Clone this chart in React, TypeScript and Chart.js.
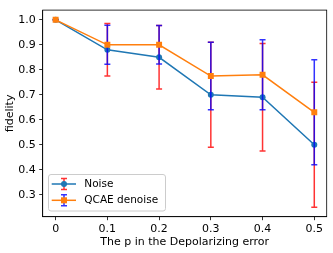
import { useEffect, useRef } from 'react';
import { Chart, registerables } from 'chart.js';

Chart.register(...registerables);

const pValues = [0, 0.1, 0.2, 0.3, 0.4, 0.5];
const noiseMean = [1.0, 0.88, 0.85, 0.70, 0.69, 0.50];
const noiseErr = [0, 0.105, 0.127, 0.21, 0.215, 0.25];
const qcaeMean = [1.0, 0.90, 0.90, 0.775, 0.78, 0.63];
const qcaeErr = [0, 0.078, 0.077, 0.135, 0.14, 0.21];
const seriesNames = ['Noise', 'QCAE denoise'];
const xTickValues = [0, 0.1, 0.2, 0.3, 0.4, 0.5];
const xTickLabels = ['0', '0.1', '0.2', '0.3', '0.4', '0.5'];
const yTickValues = [0.3, 0.4, 0.5, 0.6, 0.7, 0.8, 0.9, 1.0];
const yTickLabels = ['0.3', '0.4', '0.5', '0.6', '0.7', '0.8', '0.9', '1.0'];
const xTitle = 'The p in the Depolarizing error';
const yTitle = 'fidelity';

const BLUE = '#1f77b4';
const ORANGE = '#ff7f0e';
const ERR_RED = 'rgba(255,0,0,0.8)';
const ERR_BLUE = 'rgba(0,0,255,0.8)';
const FONT = 'DejaVu Sans';

const errMap: Record<string, { errs: number[]; color: string }> = {
  [seriesNames[0]]: { errs: noiseErr, color: ERR_RED },
  [seriesNames[1]]: { errs: qcaeErr, color: ERR_BLUE },
};

function drawErrBar(ctx: CanvasRenderingContext2D, px: number, top: number, bot: number, color: string) {
  ctx.save();
  ctx.strokeStyle = color;
  ctx.lineWidth = 1.5;
  ctx.beginPath();
  ctx.moveTo(px, top);
  ctx.lineTo(px, bot);
  ctx.moveTo(px - 3, top);
  ctx.lineTo(px + 3, top);
  ctx.moveTo(px - 3, bot);
  ctx.lineTo(px + 3, bot);
  ctx.stroke();
  ctx.restore();
}

const errorBarPlugin = {
  id: 'errorBars',
  beforeDatasetDraw(chart: any, args: any) {
    const ds = chart.data.datasets[args.index];
    const info = errMap[ds.label];
    if (!info) return;
    const { ctx, scales } = chart;
    const xs = scales.x;
    const ys = scales.y;
    ds.data.forEach((pt: any, i: number) => {
      const px = xs.getPixelForValue(pt.x);
      const top = ys.getPixelForValue(pt.y + info.errs[i]);
      const bot = ys.getPixelForValue(pt.y - info.errs[i]);
      drawErrBar(ctx, px, top, bot, info.color);
    });
  },
};

const framePlugin = {
  id: 'frameLegend',
  afterDraw(chart: any) {
    const { ctx, chartArea } = chart;
    ctx.save();
    ctx.strokeStyle = '#000';
    ctx.lineWidth = 0.8;
    ctx.strokeRect(chartArea.left, chartArea.top, chartArea.right - chartArea.left, chartArea.bottom - chartArea.top);

    // legend
    const lx = 48.5, ly = 174.5, lw = 117, lh = 36.5, r = 2.5;
    ctx.beginPath();
    ctx.moveTo(lx + r, ly);
    ctx.lineTo(lx + lw - r, ly);
    ctx.quadraticCurveTo(lx + lw, ly, lx + lw, ly + r);
    ctx.lineTo(lx + lw, ly + lh - r);
    ctx.quadraticCurveTo(lx + lw, ly + lh, lx + lw - r, ly + lh);
    ctx.lineTo(lx + r, ly + lh);
    ctx.quadraticCurveTo(lx, ly + lh, lx, ly + lh - r);
    ctx.lineTo(lx, ly + r);
    ctx.quadraticCurveTo(lx, ly, lx + r, ly);
    ctx.closePath();
    ctx.fillStyle = 'rgba(255,255,255,0.8)';
    ctx.fill();
    ctx.strokeStyle = '#cccccc';
    ctx.lineWidth = 1;
    ctx.stroke();

    const rows = [
      { y: 184, name: seriesNames[0], err: ERR_RED, line: BLUE, marker: 'circle' },
      { y: 200.3, name: seriesNames[1], err: ERR_BLUE, line: ORANGE, marker: 'rect' },
    ];
    rows.forEach((row) => {
      drawErrBar(ctx, 64, row.y - 5.5, row.y + 5.5, row.err);
      ctx.strokeStyle = row.line;
      ctx.lineWidth = 1.5;
      ctx.beginPath();
      ctx.moveTo(51.7, row.y);
      ctx.lineTo(76, row.y);
      ctx.stroke();
      ctx.fillStyle = row.line;
      if (row.marker === 'circle') {
        ctx.beginPath();
        ctx.arc(64, row.y, 3, 0, Math.PI * 2);
        ctx.fill();
      } else {
        ctx.fillRect(61, row.y - 3, 6, 6);
      }
      ctx.fillStyle = '#000';
      ctx.font = `10.5px "${FONT}"`;
      ctx.textBaseline = 'middle';
      ctx.textAlign = 'left';
      ctx.fillText(row.name, 84.3, row.y);
    });
    ctx.restore();
  },
};

export default function App() {
  const canvasRef = useRef<HTMLCanvasElement | null>(null);

  useEffect(() => {
    document.body.style.margin = '0';
    const canvas = canvasRef.current;
    if (!canvas) return;
    const font = { family: FONT, size: 11 };
    const chart = new Chart(canvas, {
      type: 'line',
      data: {
        datasets: [
          {
            label: seriesNames[0],
            data: pValues.map((p, i) => ({ x: p, y: noiseMean[i] })),
            borderColor: BLUE,
            backgroundColor: BLUE,
            borderWidth: 1.5,
            pointStyle: 'circle',
            pointRadius: 3,
            pointBorderWidth: 0,
            pointBackgroundColor: BLUE,
            tension: 0,
            order: 2,
          },
          {
            label: seriesNames[1],
            data: pValues.map((p, i) => ({ x: p, y: qcaeMean[i] })),
            borderColor: ORANGE,
            backgroundColor: ORANGE,
            borderWidth: 1.5,
            pointStyle: 'rect',
            pointRadius: 4.2,
            pointBorderWidth: 0,
            pointBackgroundColor: ORANGE,
            tension: 0,
            order: 1,
          },
        ],
      },
      options: {
        responsive: false,
        animation: false,
        devicePixelRatio: 1,
        layout: { padding: { top: 5, right: 6.3, left: 0, bottom: 0 } },
        plugins: { legend: { display: false }, tooltip: { enabled: false } },
        scales: {
          x: {
            type: 'linear',
            min: -0.025,
            max: 0.524,
            afterBuildTicks: (s: any) => {
              s.ticks = xTickValues.map((v) => ({ value: v }));
            },
            afterFit: (s: any) => {
              s.height = 36.3;
            },
            ticks: {
              callback: (v: any) => {
                const i = xTickValues.findIndex((t) => Math.abs(t - Number(v)) < 1e-9);
                return i >= 0 ? xTickLabels[i] : '';
              },
              font,
              color: '#000',
              padding: 2.3,
              maxRotation: 0,
              autoSkip: false,
            },
            grid: { drawOnChartArea: false, drawTicks: true, tickLength: 3.5, tickColor: '#000', tickWidth: 0.8 },
            border: { display: true, color: '#000', width: 0.8 },
            title: { display: true, text: xTitle, font, color: '#000', padding: { top: 0, bottom: 4.7 } },
          },
          y: {
            type: 'linear',
            min: 0.212,
            max: 1.039,
            afterBuildTicks: (s: any) => {
              s.ticks = yTickValues.map((v) => ({ value: v }));
            },
            afterFit: (s: any) => {
              s.width = 42.7;
            },
            ticks: {
              callback: (v: any) => {
                const i = yTickValues.findIndex((t) => Math.abs(t - Number(v)) < 1e-9);
                return i >= 0 ? yTickLabels[i] : '';
              },
              font,
              color: '#000',
              padding: 3.5,
              autoSkip: false,
            },
            grid: { drawOnChartArea: false, drawTicks: true, tickLength: 3.5, tickColor: '#000', tickWidth: 0.8 },
            border: { display: true, color: '#000', width: 0.8 },
            title: { display: true, text: yTitle, font, color: '#000', padding: { top: 3.9, bottom: 0 } },
          },
        },
      },
      plugins: [errorBarPlugin, framePlugin],
    } as any);
    return () => chart.destroy();
  }, []);

  return (
    <div style={{ width: 333, height: 253 }}>
      <canvas ref={canvasRef} width={333} height={253} style={{ display: 'block' }} />
    </div>
  );
}
